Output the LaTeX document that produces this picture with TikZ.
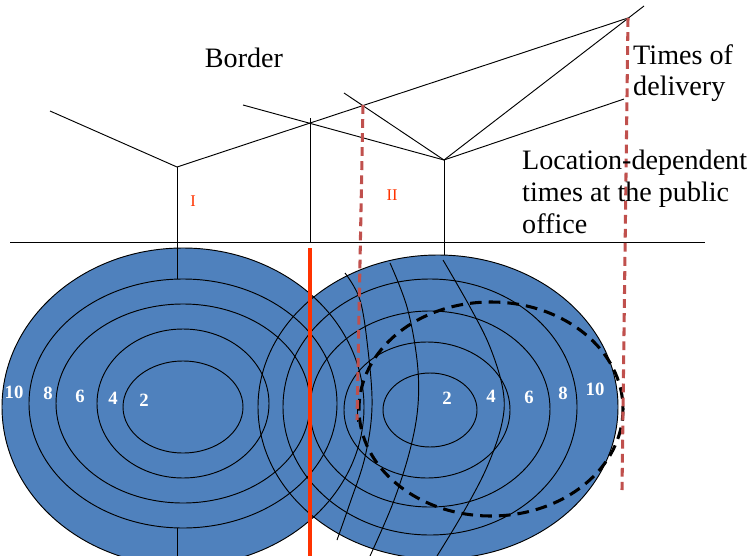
\documentclass[tikz,border=0pt]{standalone}
\usepackage{fontspec}
\setmainfont{Liberation Serif}
\usetikzlibrary{positioning}
\definecolor{zoneblue}{RGB}{79,129,189}
\definecolor{cutred}{RGB}{192,80,77}
\definecolor{borderred}{RGB}{255,51,0}

\begin{document}
\begin{tikzpicture}[x=0.03cm, y=-0.03cm,
    ring/.style={draw, line width=0.8pt},
    edge/.style={line width=0.8pt},
    lbl/.style={font=\fontsize{24}{27}\selectfont, align=left, inner sep=0pt},
    num/.style={font=\fontsize{16}{16}\selectfont\bfseries, text=white, inner sep=0pt},
    zonelbl/.style={font=\fontsize{14}{14}\selectfont, text=borderred, inner sep=0pt},
    cut/.style={draw=cutred, line width=2.6pt, dash pattern=on 7.5pt off 4.5pt},
    catchment/.style={draw, line width=2.6pt, dash pattern=on 10pt off 6pt}
]
\clip (0,0) rectangle (750,556);

% the two market areas
\fill[zoneblue] (183,407) ellipse [x radius=181, y radius=159];
\fill[zoneblue] (438,407) ellipse [x radius=180, y radius=152];
\draw[ring] (183,407) ellipse [x radius=181, y radius=159];
\draw[ring] (438,407) ellipse [x radius=180, y radius=152];
\draw[ring] (183,403.5) ellipse [x radius=154, y radius=124.5];
\draw[ring] (183,403.5) ellipse [x radius=127, y radius=99.5];
\draw[ring] (183,403.5) ellipse [x radius=86, y radius=74.5];
\draw[ring] (183,407) ellipse [x radius=60, y radius=46];
\draw[ring] (430,407) ellipse [x radius=147, y radius=128];
\draw[ring] (430,409) ellipse [x radius=120, y radius=98];
\draw[ring] (427,410) ellipse [x radius=83, y radius=68];
\draw[ring] (430,410) ellipse [x radius=47, y radius=37];

% delivery isochrones
\draw[edge] plot[smooth, tension=0.6] coordinates {(345,273) (360,300) (368,350) (372,407) (365,457) (350,503) (337,540)};
\draw[edge] plot[smooth, tension=0.6] coordinates {(390,263) (407,307) (417,360) (418,405) (410,450) (393,503) (370,556)};
\draw[edge] plot[smooth, tension=0.6] coordinates {(443,260) (470,307) (490,347) (503,390) (502,423) (487,467) (463,513) (437,556)};
\draw[edge] (357,403) -- (357,422);

\draw[catchment] (491,409) ellipse [x radius=132, y radius=107];

% price funnels
\coordinate (p1) at (177,167);
\coordinate (p2) at (444,160);
\coordinate (q) at (628,18);
\draw[edge] (50,111) -- (p1);
\draw[edge] (p1) -- (q);
\draw[edge] (243,105) -- (p2);
\draw[edge] (344,93) -- (p2);
\draw[edge] (p2) -- (624,99);
\draw[edge] (p2) -- (644,6);
\draw[edge] (p1) -- (177,279);
\draw[edge] (177,528) -- (177,556);
\draw[edge] (p2) -- (444,255);
\draw[edge] (310,118) -- (310,242);
\draw[edge] (10,242) -- (705,242);

\draw[cut] (363,105) -- (357,420);
\draw[cut] (q) -- (622,490);
\draw[borderred, line width=3.2pt] (310,248) -- (310,556);

\node[lbl] (border) at (244,58) {Border};
\node[lbl, anchor=west] (times) at (633,73) {Times of\\delivery};
\node[lbl, anchor=west] (locdep) at (522,192) {Location-dependent\\times at the public\\office};
\node[zonelbl] (zoneI) at (193,201) {I};
\node[zonelbl] (zoneII) at (392,195) {II};

\node[num] (l10) at (14,392) {10};
\node[num] (l8) at (48,393) {8};
\node[num] (l6) at (80,396) {6};
\node[num] (l4) at (113,398) {4};
\node[num] (l2) at (144,400) {2};
\node[num] (r2) at (447,398) {2};
\node[num] (r4) at (491,396) {4};
\node[num] (r6) at (529,397) {6};
\node[num] (r8) at (563,393) {8};
\node[num] (r10) at (595,389) {10};
\end{tikzpicture}
\end{document}
